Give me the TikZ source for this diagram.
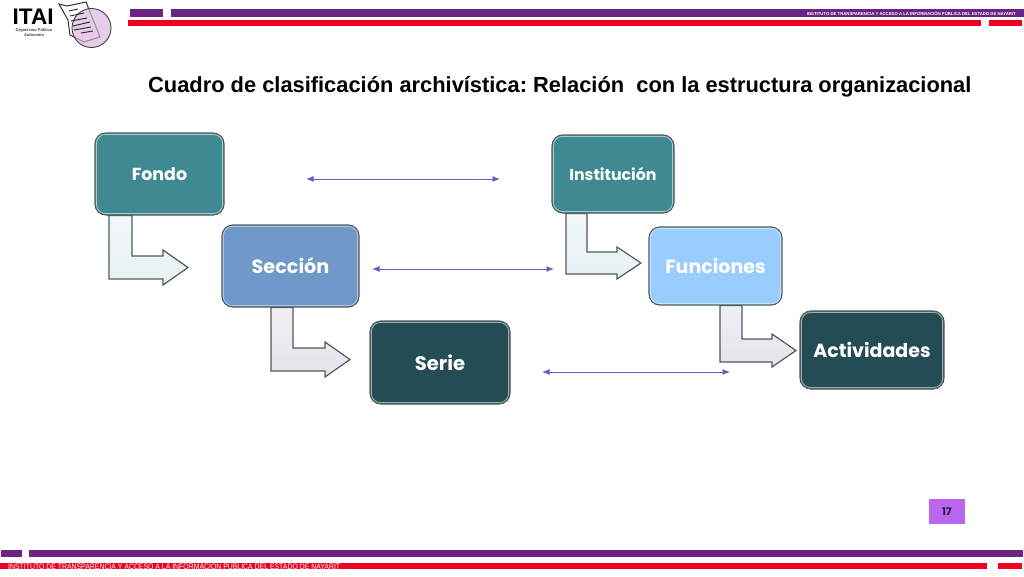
\documentclass[tikz,border=0pt]{standalone}
\usepackage{fontspec}
\usetikzlibrary{arrows.meta}
\setmainfont{Liberation Sans}
\newfontfamily\boxfont{Poppins}
\frenchspacing
\definecolor{barpurple}{HTML}{6C2483}
\definecolor{barred}{HTML}{EE0022}
\definecolor{linkblue}{HTML}{6A5ACD}
\definecolor{teal1}{HTML}{3F8A92}
\definecolor{blue1}{HTML}{7098C8}
\definecolor{blue2}{HTML}{99CCFF}
\definecolor{dark1}{HTML}{234C54}
\definecolor{edgegray}{HTML}{4F5A5A}
\definecolor{pagefill}{HTML}{BB66EE}
\definecolor{pagetext}{HTML}{2E0F45}
\definecolor{arrowpale}{HTML}{E8F1F2}
\definecolor{arrowgray}{HTML}{E3E3EA}
\pgfdeclarelayer{under}
\pgfsetlayers{under,main}
\tikzset{
  gbox/.style={draw=edgegray,line width=1.2pt,rounded corners=11pt,inner sep=0pt,text=white,align=center},
  glow/.style={line width=0.9pt,rounded corners=9pt},
  bent/.style={draw=edgegray,line width=1.2pt,line join=miter},
  link/.style={draw=linkblue,line width=0.9pt,{Latex[length=7.5pt,width=6pt]}-{Latex[length=7.5pt,width=6pt]}},
  tiny/.style={inner sep=0pt,text=white}
}
\newcommand{\gb}[9]{%
  \node[gbox,fill=#6,minimum width=#4 pt-#2 pt,minimum height=#5 pt-#3 pt,font=\boxfont\bfseries\fontsize{#8}{#8}\selectfont] (#1) at ({(#2+#4)/2},{(#3+#5)/2}) {#9};
  \draw[glow,draw=#7] ([shift={(2,2)}]#1.north west) rectangle ([shift={(-2,-2)}]#1.south east);
}
\newcommand{\bentarrow}[9]{% box, left, stemright, horiztop, headtop, tipx, tipy, headback, fill
  \draw[bent,top color=#9!55!white,bottom color=#9] (#2,0 |- #1.south) -- (#3,0 |- #1.south) -- (#3,#4) -- (#8,#4) -- (#8,#5) -- (#6,#7) -- (#8,{2*#7-#5}) -- (#8,{2*#7-#4}) -- (#2,{2*#7-#4}) -- cycle;
}
\begin{document}
\begin{tikzpicture}[x=1pt,y=-1pt]
\useasboundingbox (0,0) rectangle (1024,576);
% header bars
\fill[barpurple] (130,9) rectangle (163,17);
\fill[barpurple] (171,9) rectangle (1024,17);
\fill[barred] (128,20) rectangle (981,26);
\fill[barred] (989,20) rectangle (1022,26);
\node[tiny,anchor=east,font=\bfseries\fontsize{4.27}{5}\selectfont] (headtext) at (1016,13.4) {INSTITUTO DE TRANSPARENCIA Y ACCESO A LA INFORMACIÓN PÚBLICA DEL ESTADO DE NAYARIT};
% logo
\node[inner sep=0pt,anchor=base west,font=\bfseries\fontsize{22.5}{24}\selectfont] (itai) at (12.5,24) {ITAI};
\node[inner sep=0pt,font=\bfseries\fontsize{4}{5.4}\selectfont,align=center,text=black!75] (itaisub) at (34,32.5) {Organismo Público\\Autónomo};
\filldraw[draw=black!80,line width=1pt,fill=white] (59,4) -- (67,6) -- (86,2) -- (90,12) -- (100,37) -- (84,42) -- (70,35) -- (68,20) -- cycle;
\draw[draw=black!75,line width=0.9pt,fill=violet!30!white,fill opacity=.65] (91.5,28) circle (19.5);
\draw[black!85,line width=0.9pt] (69,11) -- (78,9) (70,16) -- (84,13) (71,21) -- (87,18) (73,26) -- (90,22) (74,30) -- (91,27) (81,33) -- (93,31);
% boxes
\gb{fondo}{95}{133}{224}{215}{teal1}{teal1!45!white}{17.4}{Fondo}
\gb{seccion}{222}{225}{359}{307}{blue1}{blue1!55!white}{19.2}{Sección}
\gb{serie}{370}{321}{510}{404}{dark1}{dark1!45!white}{19.6}{Serie}
\gb{institucion}{552}{135}{674}{213}{teal1}{teal1!45!white}{15.8}{Institución}
\gb{funciones}{649}{227}{782}{305}{blue2}{blue2!55!white}{19}{Funciones}
\gb{actividades}{800}{311}{944}{389}{dark1}{dark1!45!white}{19}{Actividades}
% bent arrows under the boxes
\begin{pgfonlayer}{under}
\bentarrow{fondo}{109}{132}{256}{250}{188}{267.5}{163}{arrowpale}
\bentarrow{seccion}{271}{293}{348}{342}{350}{359.5}{325}{arrowgray}
\bentarrow{institucion}{566}{587}{252}{247}{641}{263}{617}{arrowpale}
\bentarrow{funciones}{720}{742}{339}{334}{796}{350.5}{772}{arrowgray}
\end{pgfonlayer}
% links
\coordinate (a1) at (306,179); \coordinate (a2) at (500,179);
\coordinate (b1) at (372,269); \coordinate (b2) at (554,269);
\coordinate (c1) at (542,372); \coordinate (c2) at (730,372);
\draw[link] (a1) -- (a2);
\draw[link] (b1) -- (b2);
\draw[link] (c1) -- (c2);
% title
\node[inner sep=0pt,anchor=base west,font=\bfseries\fontsize{21.85}{24}\selectfont] (title) at (148,92) {Cuadro de clasificación archivística: Relación\ \ con la estructura organizacional};
% page number
\node[fill=pagefill,minimum width=36pt,minimum height=25pt,inner sep=0pt,text=pagetext,font=\boxfont\bfseries\fontsize{10.5}{11}\selectfont] (page) at (947,511.5) {17};
% footer
\fill[barpurple] (1,550) rectangle (22,557);
\fill[barpurple] (29,550) rectangle (1023,557);
\fill[barred] (0,563) rectangle (987,569);
\fill[barred] (998,563) rectangle (1022,569);
\node[tiny,anchor=west,font=\fontsize{8}{8}\selectfont] (foottext) at (8,566) {\scalebox{.862}[1]{INSTITUTO DE TRANSPARENCIA Y ACCESO A LA INFORMACIÓN PÚBLICA DEL ESTADO DE NAYARIT}};
\end{tikzpicture}
\end{document}
